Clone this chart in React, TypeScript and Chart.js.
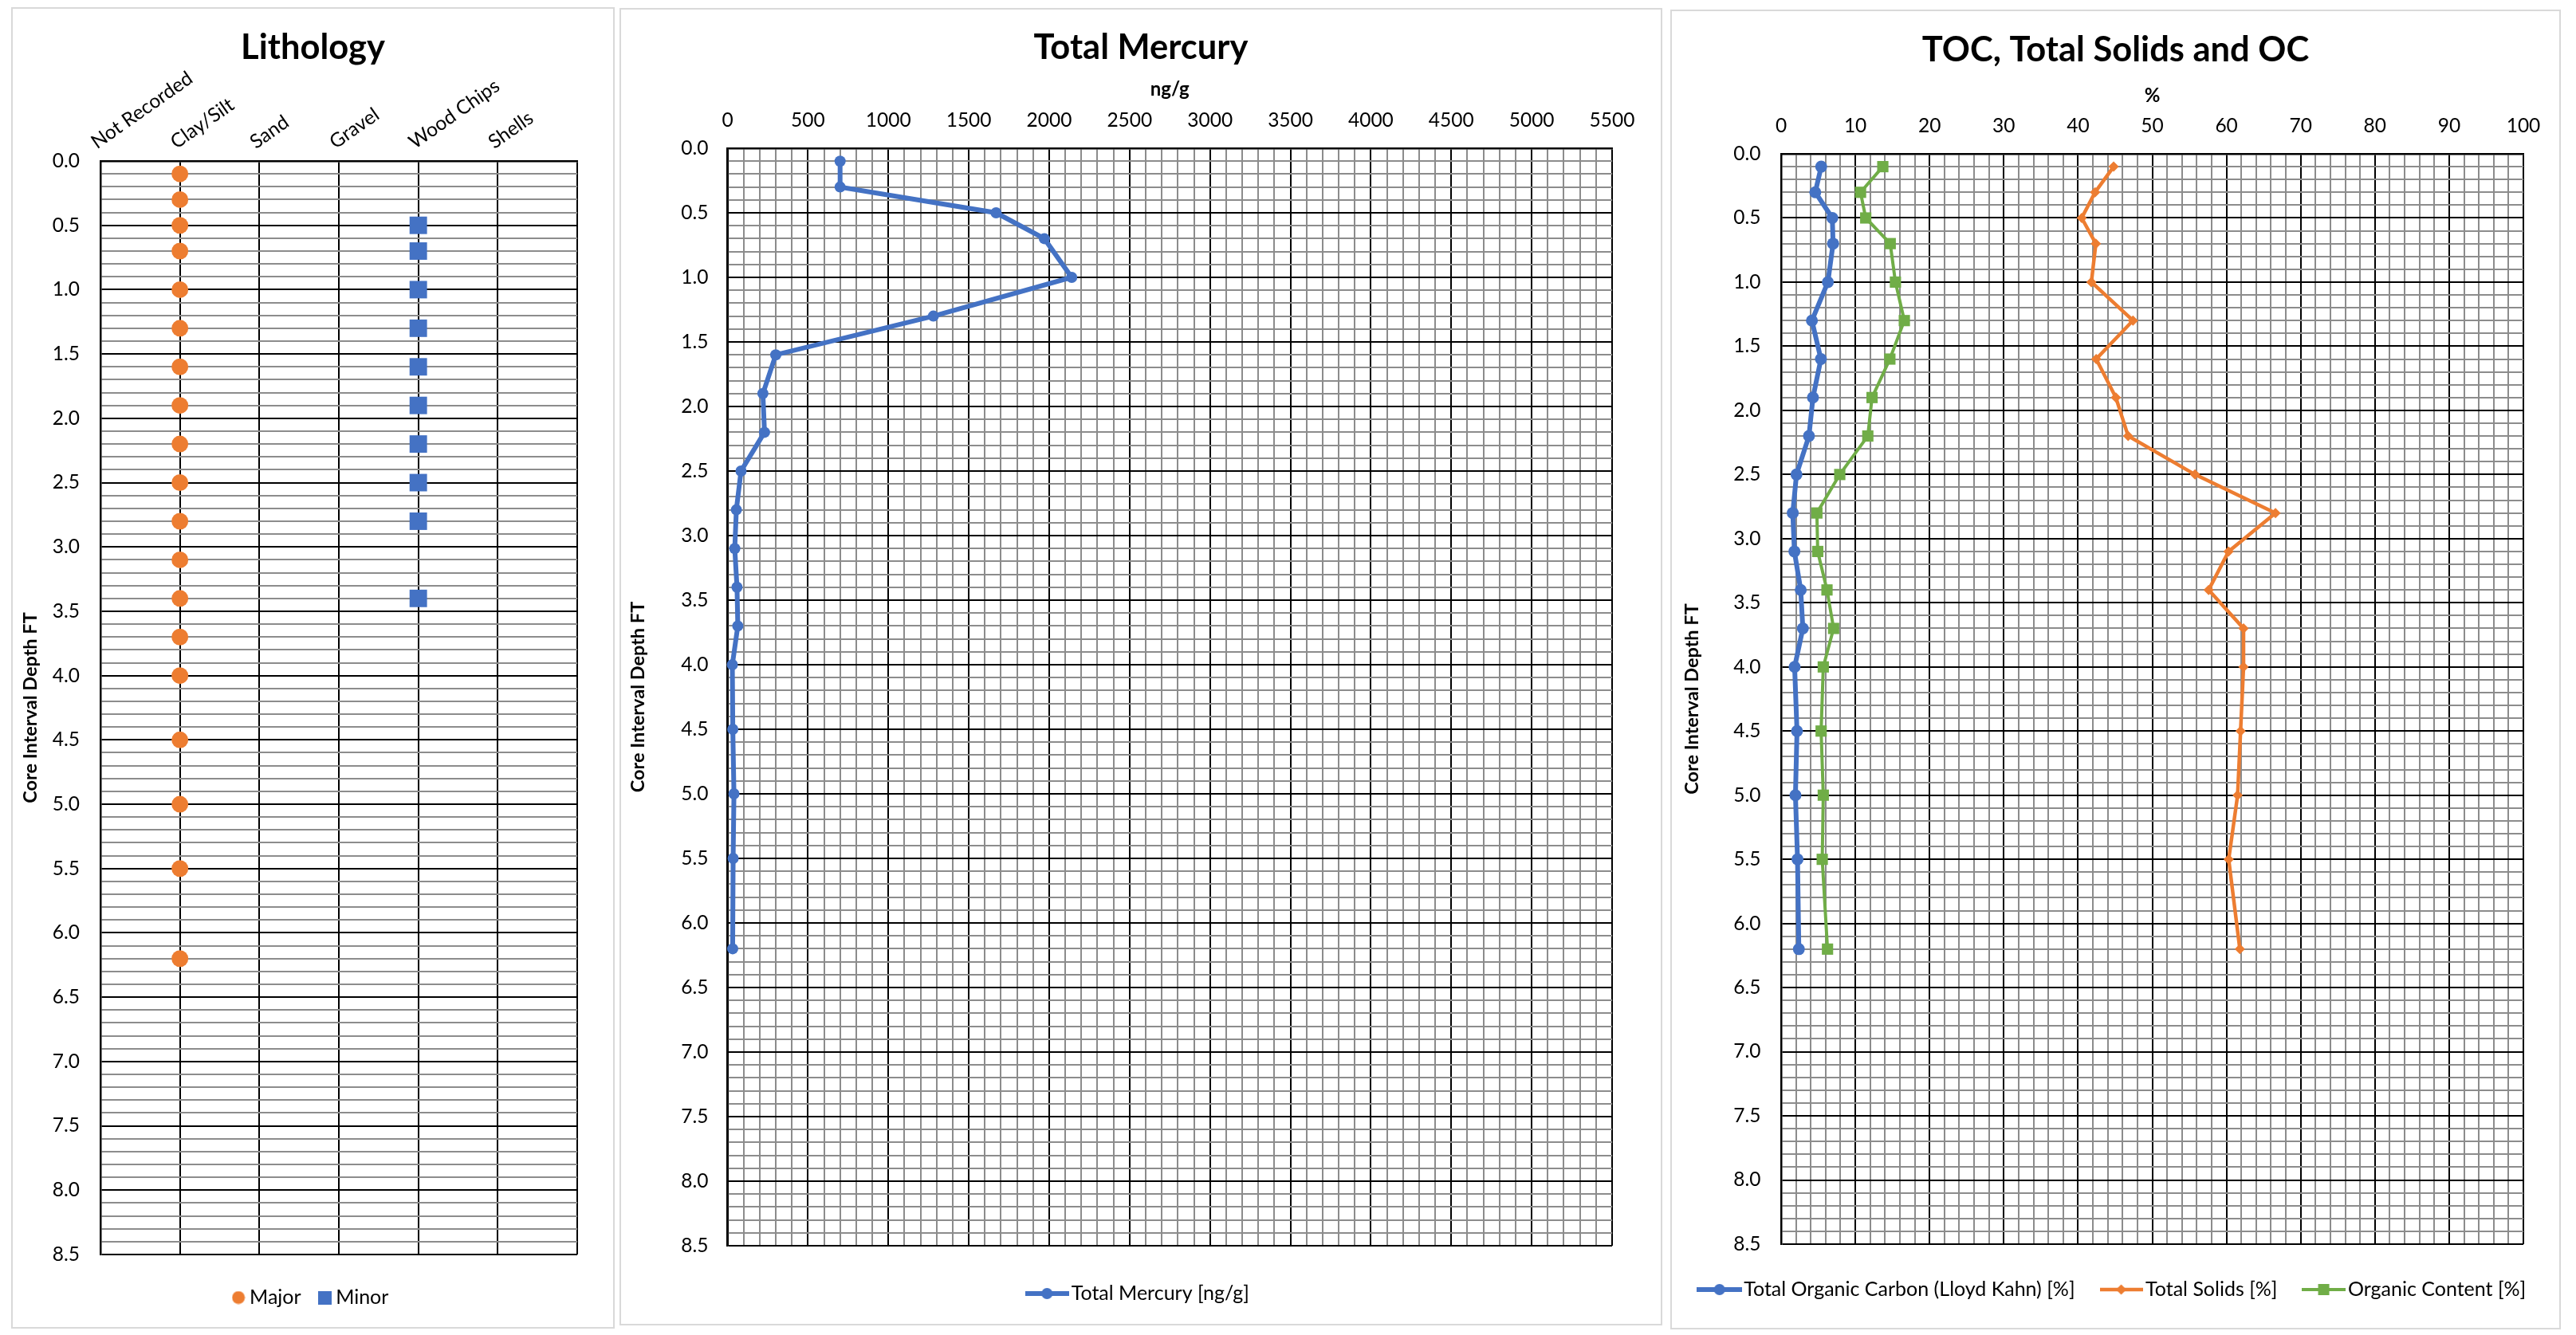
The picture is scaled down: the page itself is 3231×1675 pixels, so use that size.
import React, { useEffect, useRef } from 'react';
import { Chart, registerables } from 'chart.js';

Chart.register(...registerables);

const FONT = "Lato, 'Open Sans', 'DejaVu Sans', sans-serif";
Chart.defaults.font.family = FONT;
Chart.defaults.color = '#000';

// ---------------- data ----------------
const depths = [0.1, 0.3, 0.5, 0.7, 1.0, 1.3, 1.6, 1.9, 2.2, 2.5, 2.8, 3.1, 3.4, 3.7, 4.0, 4.5, 5.0, 5.5, 6.2];

const lithologyCategories = ['Not Recorded', 'Clay/Silt', 'Sand', 'Gravel', 'Wood Chips', 'Shells'];
const majorLithology = 'Clay/Silt';
const majorDepths = [0.1, 0.3, 0.5, 0.7, 1.0, 1.3, 1.6, 1.9, 2.2, 2.5, 2.8, 3.1, 3.4, 3.7, 4.0, 4.5, 5.0, 5.5, 6.2];
const minorLithology = 'Wood Chips';
const minorDepths = [0.5, 0.7, 1.0, 1.3, 1.6, 1.9, 2.2, 2.5, 2.8, 3.4];

const mercury = [700, 700, 1670, 1970, 2140, 1280, 300, 220, 230, 84, 55, 45, 59, 64, 30, 33, 40, 35, 32];
const toc = [5.4, 4.6, 6.9, 7.0, 6.3, 4.15, 5.36, 4.29, 3.75, 2.07, 1.57, 1.79, 2.64, 2.93, 1.82, 2.14, 1.93, 2.21, 2.39];
const totalSolids = [44.8, 42.3, 40.5, 42.4, 41.8, 47.4, 42.45, 45.1, 46.75, 55.76, 66.6, 60.28, 57.6, 62.3, 62.3, 61.9, 61.5, 60.3, 61.8];
const organicContent = [13.7, 10.7, 11.4, 14.7, 15.4, 16.6, 14.65, 12.25, 11.68, 7.9, 4.82, 4.93, 6.18, 7.07, 5.68, 5.39, 5.68, 5.54, 6.25];

const depthTickLabels = ['0.0', '0.5', '1.0', '1.5', '2.0', '2.5', '3.0', '3.5', '4.0', '4.5', '5.0', '5.5', '6.0', '6.5', '7.0', '7.5', '8.0', '8.5'];
const mercuryTickLabels = ['0', '500', '1000', '1500', '2000', '2500', '3000', '3500', '4000', '4500', '5000', '5500'];
const percentTickLabels = ['0', '10', '20', '30', '40', '50', '60', '70', '80', '90', '100'];

const BLUE = '#4472C4';
const ORANGE = '#ED7D31';
const GREEN = '#70AD47';
const GRID_MAJOR = '#000000';
const GRID_MINOR = '#8c8c8c';

const TICK_SIZE = 24.5;
const TITLE_SIZE = 43.5;
const AXIS_TITLE_SIZE = 24;
const DEPTH_TITLE_SIZE = 23.5;
const LEGEND_SIZE = 25;

// ---------------- helpers ----------------
const near = (v: number, step: number) => Math.abs(v / step - Math.round(v / step)) < 1e-6;

const labelAt = (labels: string[], step: number) => (v: any) =>
  near(Number(v), step) ? labels[Math.round(Number(v) / step)] ?? '' : '';

const gridOpts = (majorStep: number) => ({
  drawTicks: false,
  lineWidth: 2,
  color: (ctx: any) => (near(ctx.tick ? ctx.tick.value : 0, majorStep) ? GRID_MAJOR : GRID_MINOR),
});

const depthAxis = (width: number, tickPad: number, titlePad: number) => ({
  type: 'linear',
  position: 'left',
  reverse: true,
  min: 0,
  max: 8.5,
  ticks: { stepSize: 0.1, autoSkip: false, padding: tickPad, font: { size: TICK_SIZE }, color: '#000', callback: labelAt(depthTickLabels, 0.5) },
  grid: gridOpts(0.5),
  border: { display: true, color: '#000', width: 2.5 },
  title: { display: true, text: 'Core Interval Depth FT', font: { size: DEPTH_TITLE_SIZE, weight: 'bold' }, color: '#000', padding: { top: titlePad, bottom: 0 } },
  afterFit: (s: any) => { s.width = width; },
});

const spacer = (position: 'right' | 'bottom', size: number) => ({
  type: 'linear',
  position,
  axis: position === 'right' ? 'y' : 'x',
  display: true,
  grid: { display: false },
  ticks: { display: false },
  border: { display: false },
  afterFit: (s: any) => { if (position === 'right') s.width = size; else s.height = size; },
});

const titleOpts = (text: string, padTop: number) => ({
  display: true,
  text,
  color: '#000',
  font: { size: TITLE_SIZE, weight: 'bold' },
  padding: { top: padTop, bottom: 0 },
});

function legendImage(w: number, h: number, color: string, lineWidth: number, marker: string, size: number) {
  const c = document.createElement('canvas');
  c.width = w;
  c.height = h;
  const ctx = c.getContext('2d')!;
  if (lineWidth > 0) {
    ctx.strokeStyle = color;
    ctx.lineWidth = lineWidth;
    ctx.beginPath();
    ctx.moveTo(0, h / 2);
    ctx.lineTo(w, h / 2);
    ctx.stroke();
  }
  ctx.fillStyle = color;
  const cx = w / 2, cy = h / 2, r = size / 2;
  ctx.beginPath();
  if (marker === 'circle') ctx.arc(cx, cy, r, 0, Math.PI * 2);
  else if (marker === 'rect') ctx.rect(cx - r, cy - r, size, size);
  else {
    ctx.moveTo(cx, cy - r);
    ctx.lineTo(cx + r, cy);
    ctx.lineTo(cx, cy + r);
    ctx.lineTo(cx - r, cy);
    ctx.closePath();
  }
  ctx.fill();
  return c;
}

const legendOpts = (images: HTMLCanvasElement[], pw: number, padding: number) => ({
  display: true,
  position: 'bottom',
  labels: {
    usePointStyle: true,
    pointStyleWidth: pw,
    padding,
    color: '#000',
    font: { size: LEGEND_SIZE },
    generateLabels: (chart: any) =>
      (Chart.defaults.plugins.legend.labels.generateLabels as any)(chart).map((it: any, i: number) => ({ ...it, pointStyle: images[i] })),
  },
});

const baseOptions = (padBottom: number) => ({
  responsive: false,
  maintainAspectRatio: false,
  devicePixelRatio: 1,
  animation: false,
  events: [],
  layout: { padding: { top: 0, left: 0, right: 0, bottom: padBottom } },
});

// ---------------- chart configs ----------------
function buildLithology(): any {
  const majorX = lithologyCategories.indexOf(majorLithology);
  const minorX = lithologyCategories.indexOf(minorLithology);
  return {
    type: 'scatter',
    data: {
      datasets: [
        {
          label: 'Major',
          data: majorDepths.map((d) => ({ x: majorX, y: d })),
          showLine: false,
          pointStyle: 'circle',
          pointRadius: 10.5,
          pointBorderWidth: 0,
          backgroundColor: ORANGE,
          borderColor: ORANGE,
          clip: false,
        },
        {
          label: 'Minor',
          data: minorDepths.map((d) => ({ x: minorX, y: d })),
          showLine: false,
          pointStyle: 'rect',
          pointRadius: 15.5,
          pointBorderWidth: 0,
          backgroundColor: BLUE,
          borderColor: BLUE,
          clip: false,
        },
      ],
    },
    options: {
      ...baseOptions(14.5),
      scales: {
        x: {
          type: 'linear',
          position: 'top',
          min: 0,
          max: 6,
          ticks: {
            stepSize: 1,
            autoSkip: false,
            minRotation: 35,
            maxRotation: 35,
            padding: 9,
            labelOffset: 8,
            font: { size: TICK_SIZE },
            color: '#000',
            callback: (v: any) => lithologyCategories[Number(v)] ?? '',
          },
          grid: { drawTicks: false, color: '#000', lineWidth: 2 },
          border: { display: true, color: '#000', width: 2.5 },
          afterFit: (s: any) => { s.height = 116.4; },
        },
        y: depthAxis(110, 26, 8.4),
        padR: spacer('right', 45),
        padB: spacer('bottom', 13.5),
      },
      plugins: {
        title: titleOpts('Lithology', 22.4),
        legend: legendOpts(
          [legendImage(17, 17, ORANGE, 0, 'circle', 16), legendImage(17, 17, BLUE, 0, 'rect', 17)],
          3,
          28,
        ),
        tooltip: { enabled: false },
      },
    },
  };
}

function buildMercury(): any {
  return {
    type: 'scatter',
    data: {
      datasets: [
        {
          label: 'Total Mercury [ng/g]',
          data: depths.map((d, i) => ({ x: mercury[i], y: d })),
          showLine: true,
          borderColor: BLUE,
          backgroundColor: BLUE,
          borderWidth: 6,
          pointStyle: 'circle',
          pointRadius: 7,
          pointBorderWidth: 0,
          clip: false,
        },
      ],
    },
    options: {
      ...baseOptions(15.5),
      scales: {
        x: {
          type: 'linear',
          position: 'top',
          min: 0,
          max: 5500,
          ticks: { stepSize: 100, autoSkip: false, minRotation: 0, maxRotation: 0, padding: 20.6, font: { size: TICK_SIZE }, color: '#000', callback: labelAt(mercuryTickLabels, 500) },
          grid: gridOpts(500),
          border: { display: true, color: '#000', width: 2.5 },
          title: { display: true, text: 'ng/g', font: { size: AXIS_TITLE_SIZE, weight: 'bold' }, color: '#000', padding: { top: 12, bottom: 0 } },
          afterFit: (s: any) => { s.height = 100.4; },
        },
        y: depthAxis(133.5, 24, 6.9),
        padR: spacer('right', 61),
        padB: spacer('bottom', 27.5),
      },
      plugins: {
        title: titleOpts('Total Mercury', 21.4),
        legend: legendOpts([legendImage(55, 16, BLUE, 6, 'circle', 14)], 36, 20),
        tooltip: { enabled: false },
      },
    },
  };
}

function buildTOC(): any {
  return {
    type: 'scatter',
    data: {
      datasets: [
        {
          label: 'Total Organic Carbon (Lloyd Kahn) [%]',
          data: depths.map((d, i) => ({ x: toc[i], y: d })),
          showLine: true,
          borderColor: BLUE,
          backgroundColor: BLUE,
          borderWidth: 6,
          pointStyle: 'circle',
          pointRadius: 7.5,
          pointBorderWidth: 0,
          clip: false,
        },
        {
          label: 'Total Solids [%]',
          data: depths.map((d, i) => ({ x: totalSolids[i], y: d })),
          showLine: true,
          borderColor: ORANGE,
          backgroundColor: ORANGE,
          borderWidth: 4.5,
          pointStyle: 'rectRot',
          pointRadius: 6.5,
          pointBorderWidth: 0,
          clip: false,
        },
        {
          label: 'Organic Content [%]',
          data: depths.map((d, i) => ({ x: organicContent[i], y: d })),
          showLine: true,
          borderColor: GREEN,
          backgroundColor: GREEN,
          borderWidth: 4,
          pointStyle: 'rect',
          pointRadius: 10,
          pointBorderWidth: 0,
          clip: false,
        },
      ],
    },
    options: {
      ...baseOptions(25.5),
      scales: {
        x: {
          type: 'linear',
          position: 'top',
          min: 0,
          max: 100,
          ticks: { stepSize: 2, autoSkip: false, minRotation: 0, maxRotation: 0, padding: 20.3, font: { size: TICK_SIZE }, color: '#000', callback: labelAt(percentTickLabels, 10) },
          grid: gridOpts(10),
          border: { display: true, color: '#000', width: 2.5 },
          title: { display: true, text: '%', font: { size: AXIS_TITLE_SIZE, weight: 'bold' }, color: '#000', padding: { top: 16.5, bottom: 0 } },
          afterFit: (s: any) => { s.height = 103.9; },
        },
        y: depthAxis(137, 25.5, 10.9),
        padR: spacer('right', 45),
        padB: spacer('bottom', 4.5),
      },
      plugins: {
        title: titleOpts('TOC, Total Solids and OC', 22.9),
        legend: legendOpts(
          [
            legendImage(57, 16, BLUE, 6, 'circle', 14),
            legendImage(54, 16, ORANGE, 4.5, 'diamond', 13),
            legendImage(55, 16, GREEN, 4, 'rect', 14),
          ],
          36,
          40,
        ),
        tooltip: { enabled: false },
      },
    },
  };
}

// ---------------- components ----------------
function Panel(props: { left: number; top: number; width: number; height: number; build: () => any }) {
  const { left, top, width, height, build } = props;
  const ref = useRef<HTMLCanvasElement>(null);
  useEffect(() => {
    const chart = new Chart(ref.current as HTMLCanvasElement, build());
    return () => chart.destroy();
  }, []);
  const cw = width - 4;
  const ch = height - 4;
  return (
    <div
      style={{
        position: 'absolute',
        left,
        top,
        width,
        height,
        border: '2px solid #d9d9d9',
        boxSizing: 'border-box',
        background: '#fff',
      }}
    >
      <canvas ref={ref} width={cw} height={ch} style={{ display: 'block', width: cw, height: ch }} />
    </div>
  );
}

export default function App() {
  return (
    <div>
      <Panel left={14} top={9} width={757} height={1658} build={buildLithology} />
      <Panel left={777} top={10} width={1308} height={1653} build={buildMercury} />
      <Panel left={2095} top={12} width={1117} height={1656} build={buildTOC} />
    </div>
  );
}
